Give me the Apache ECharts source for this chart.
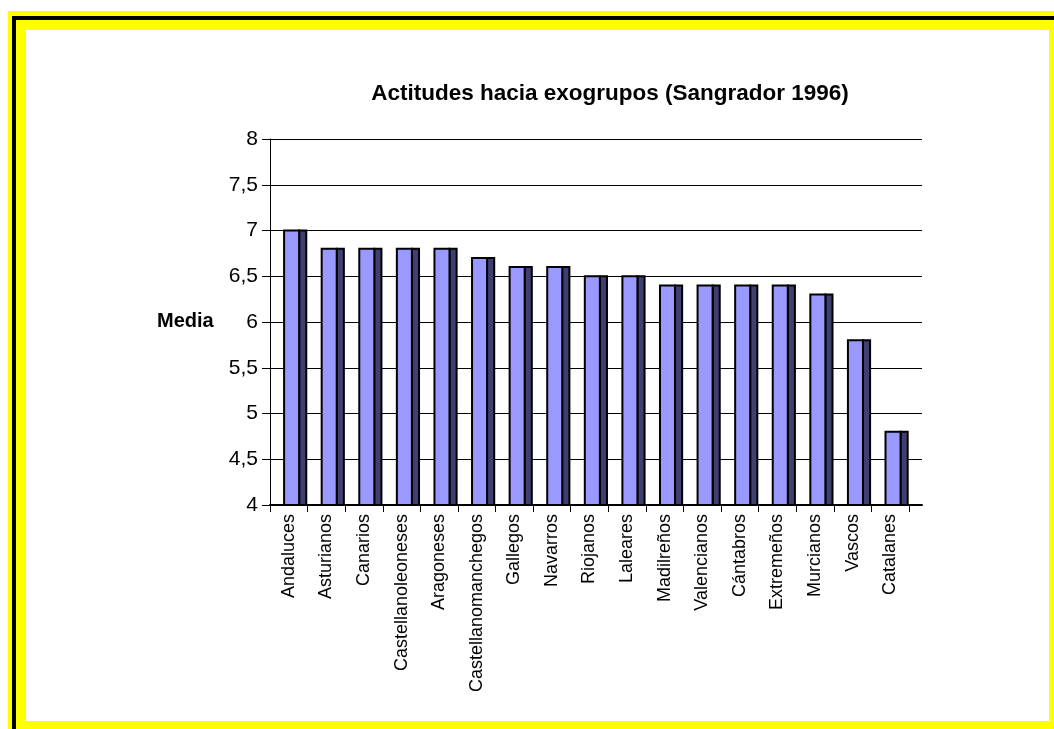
<!DOCTYPE html>
<html>
<head>
<meta charset="utf-8">
<script src="https://cdn.jsdelivr.net/npm/echarts@6/dist/echarts.min.js"></script>
<style>
  html, body { margin: 0; padding: 0; background: #ffffff; }
  #chart { width: 1054px; height: 729px; }
</style>
</head>
<body>
<div id="chart"></div>
<script>
// Mean attitude score towards each out-group
const categories = [
  'Andaluces', 'Asturianos', 'Canarios', 'Castellanoleoneses', 'Aragoneses',
  'Castellanomanchegos', 'Gallegos', 'Navarros', 'Riojanos', 'Laleares',
  'Madilreños', 'Valencianos', 'Cántabros', 'Extremeños', 'Murcianos',
  'Vascos', 'Catalanes'
];
const media = [7.0, 6.8, 6.8, 6.8, 6.8, 6.7, 6.6, 6.6, 6.5, 6.5, 6.4, 6.4, 6.4, 6.4, 6.3, 5.8, 4.8];

const titleText = 'Actitudes hacia exogrupos (Sangrador 1996)';
const yAxisTitle = 'Media';
const yMin = 4, yMax = 8, yStep = 0.5;

const FONT = '"Liberation Sans", Arial, sans-serif';
const chart = echarts.init(document.getElementById('chart'), null, { renderer: 'canvas' });

// Column with a darker right-hand side face
function renderColumn(params, api) {
  const idx = api.value(0);
  const val = api.value(1);
  const top = api.coord([idx, val]);
  const base = api.coord([idx, yMin]);
  const bw = api.size([1, 0])[0];
  const start = top[0] - bw / 2;
  const fx = start + bw * 0.375;
  const fw = bw * 0.40;
  const sw = bw * 0.19;
  const h = base[1] - top[1];
  return {
    type: 'group',
    children: [
      { type: 'rect', shape: { x: fx + fw, y: top[1], width: sw, height: h },
        style: { fill: '#3f3f72', stroke: '#000', lineWidth: 2 } },
      { type: 'rect', shape: { x: fx, y: top[1], width: fw, height: h },
        style: { fill: '#9999ff', stroke: '#000', lineWidth: 2 } }
    ]
  };
}

const option = {
  animation: false,
  backgroundColor: '#ffffff',
  textStyle: { fontFamily: FONT },
  graphic: [
    // framed page border
    { type: 'rect', z: -10, shape: { x: 8, y: 11, width: 1046, height: 718 }, style: { fill: '#ffff00' } },
    { type: 'rect', z: -9, shape: { x: 12, y: 16, width: 1042, height: 4 }, style: { fill: '#000' } },
    { type: 'rect', z: -9, shape: { x: 12, y: 16, width: 4, height: 713 }, style: { fill: '#000' } },
    { type: 'rect', z: -8, shape: { x: 26, y: 30, width: 1023, height: 691 }, style: { fill: '#ffffff' } },
    { type: 'text', z: 10, left: 157, top: 311,
      style: { text: yAxisTitle, font: 'bold 20px ' + FONT, fill: '#000' } }
  ],
  title: {
    text: titleText,
    left: 605, top: 77,
    textAlign: 'center',
    textStyle: { fontFamily: FONT, fontSize: 22.5, fontWeight: 'bold', color: '#000' }
  },
  grid: [
    { left: 270, top: 139, width: 652, height: 366 },
    { left: 270, top: 139, width: 639, height: 366 }
  ],
  xAxis: [
    { gridIndex: 0, type: 'value', min: 0, max: 1,
      axisLine: { show: true, lineStyle: { color: '#000', width: 2 } },
      axisTick: { show: false }, axisLabel: { show: false }, splitLine: { show: false } },
    { gridIndex: 1, type: 'category', data: categories, boundaryGap: true,
      axisLine: { show: false },
      axisTick: { show: true, length: 7, alignWithLabel: false, lineStyle: { color: '#000', width: 1 } },
      axisLabel: { rotate: 90, margin: 9, fontSize: 18, color: '#000', fontFamily: FONT, interval: 0 },
      splitLine: { show: false } }
  ],
  yAxis: [
    { gridIndex: 0, type: 'value', min: yMin, max: yMax, interval: yStep,
      axisLine: { show: true, lineStyle: { color: '#000', width: 1 } },
      axisTick: { show: true, length: 8, lineStyle: { color: '#000' } },
      axisLabel: { margin: 12, fontSize: 21, color: '#000', fontFamily: FONT,
        formatter: v => String(v).replace('.', ',') },
      splitLine: { show: true, lineStyle: { color: '#000', width: 1 } } },
    { gridIndex: 1, type: 'value', min: yMin, max: yMax, show: false, splitLine: { show: false } }
  ],
  series: [{
    type: 'custom',
    xAxisIndex: 1, yAxisIndex: 1,
    renderItem: renderColumn,
    encode: { x: 0, y: 1 },
    data: media.map((v, i) => [i, v])
  }]
};
chart.setOption(option);
</script>
</body>
</html>
